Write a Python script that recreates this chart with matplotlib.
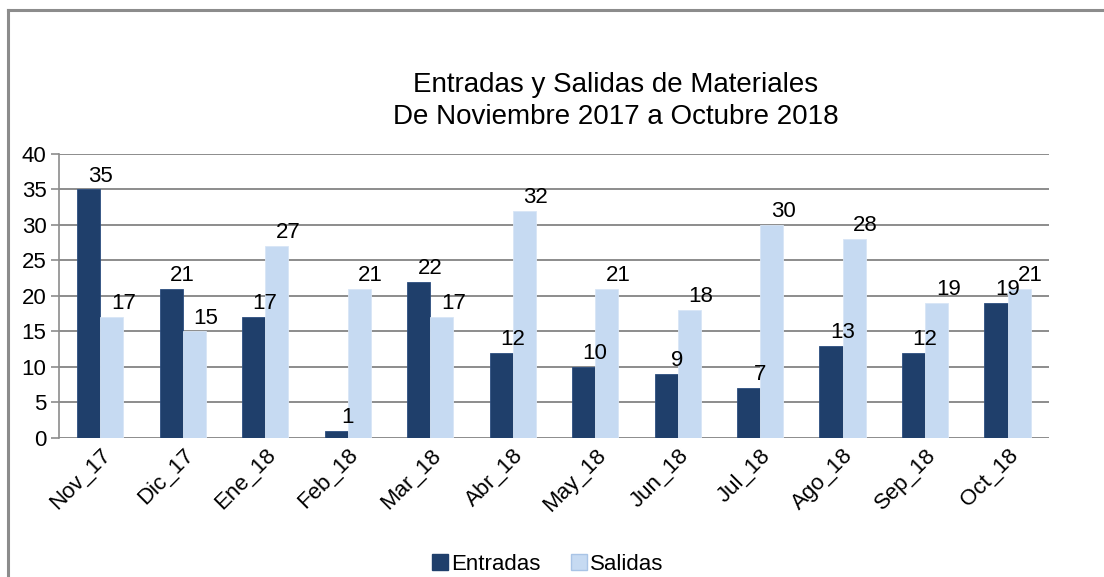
import numpy as np
import matplotlib.pyplot as plt
from matplotlib.lines import Line2D

plt.rcParams["font.family"] = ["Liberation Sans", "DejaVu Sans"]

# Data
meses = ["Nov_17", "Dic_17", "Ene_18", "Feb_18", "Mar_18", "Abr_18",
         "May_18", "Jun_18", "Jul_18", "Ago_18", "Sep_18", "Oct_18"]
entradas = [35, 21, 17, 1, 22, 12, 10, 9, 7, 13, 12, 19]
salidas = [17, 15, 27, 21, 17, 32, 21, 18, 30, 28, 19, 21]

c_ent = "#1f3f6b"
c_sal = "#c6daf2"
grid_c = "#8c8c8c"

fig = plt.figure(figsize=(11.04, 5.77), dpi=100)
ax = fig.add_axes([0.0534, 0.2414, 0.8966, 0.4917])

x = np.arange(len(meses))
w = 0.28
b1 = ax.bar(x - w / 2, entradas, w, color=c_ent, edgecolor="#2d4f80", linewidth=0.6, zorder=3)
b2 = ax.bar(x + w / 2, salidas, w, color=c_sal, edgecolor="#d8e6f6", linewidth=0.6, zorder=3)

# value labels
for bars, vals in ((b1, entradas), (b2, salidas)):
    for rect, v in zip(bars, vals):
        ax.annotate(str(v), (rect.get_x() + rect.get_width(), rect.get_height()),
                    xytext=(0, 2), textcoords="offset points",
                    ha="center", va="bottom", fontsize=16, color="black", zorder=4)

ax.set_xlim(-0.5, len(meses) - 0.5)
ax.set_ylim(0, 40)
ax.set_yticks(range(0, 41, 5))
ax.yaxis.grid(True, color=grid_c, linewidth=1.4, zorder=0)
ax.set_axisbelow(True)

for s in ("top", "right", "bottom"):
    ax.spines[s].set_visible(False)
ax.spines["left"].set_color(grid_c)
ax.spines["left"].set_linewidth(1.2)

ax.tick_params(axis="y", length=6, color=grid_c, width=1.2, labelsize=16, pad=3)
ax.tick_params(axis="x", length=0, labelsize=16, pad=5)
ax.set_xticks(x)
ax.set_xticklabels(meses, rotation=45, ha="right", rotation_mode="anchor")

fig.text(0.558, 0.825, "Entradas y Salidas de Materiales\nDe Noviembre 2017 a Octubre 2018",
         ha="center", va="center", fontsize=20, linespacing=1.28)

handles = [Line2D([], [], marker="s", linestyle="none", markersize=11,
                  markerfacecolor=c_ent, markeredgecolor=c_ent),
           Line2D([], [], marker="s", linestyle="none", markersize=11,
                  markerfacecolor=c_sal, markeredgecolor="#a9c4e6")]
fig.legend(handles, ["Entradas", "Salidas"], loc="center", bbox_to_anchor=(0.496, 0.022),
           ncol=2, frameon=False, fontsize=16, handlelength=0.7, handletextpad=0.15,
           columnspacing=1.4, borderaxespad=0)

# chart frame (top and left edges visible)
fig.add_artist(Line2D([0.0075, 0.0075], [0, 0.983], color="#8c8c8c", linewidth=2.2))
fig.add_artist(Line2D([0.0075, 1.0], [0.983, 0.983], color="#8c8c8c", linewidth=2.2))

fig.savefig("out.png", dpi=100)
